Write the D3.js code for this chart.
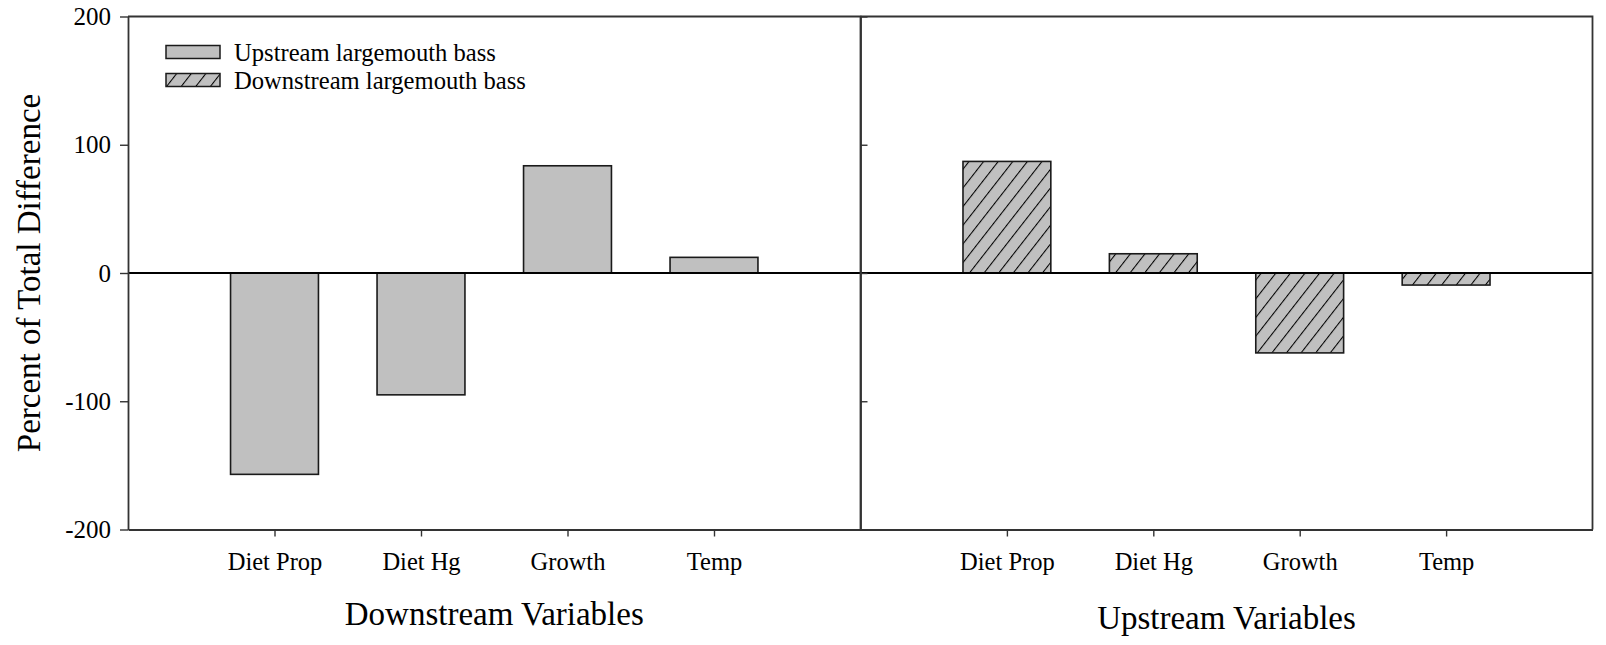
<!DOCTYPE html>
<html>
<head>
<meta charset="utf-8">
<script src="https://cdn.jsdelivr.net/npm/d3@7"></script>
<style>
  html, body { margin: 0; padding: 0; background: #fff; }
  svg { display: block; }
  text { font-family: "Liberation Serif", "Times New Roman", serif; fill: #000; }
</style>
</head>
<body>
<svg id="chart" width="1606" height="645"></svg>
<script>
// Variables compared in each panel
const categories = ["Diet Prop", "Diet Hg", "Growth", "Temp"];
// Percent of total difference, downstream variables (upstream largemouth bass)
const downstreamValues = [-157, -95, 83.6, 12.2];
// Percent of total difference, upstream variables (downstream largemouth bass)
const upstreamValues = [87, 15, -62.3, -9.4];
const yTicks = [-200, -100, 0, 100, 200];
const seriesNames = ["Upstream largemouth bass", "Downstream largemouth bass"];
const panelTitles = ["Downstream Variables", "Upstream Variables"];

const svg = d3.select("#chart");
const plotLeft = 128, plotMid = 860.5, plotRight = 1592.5, plotTop = 16.5, plotBottom = 529.5;
const ink = "#1a1a1a";
const serif = "Liberation Serif, Times New Roman, serif";

const y = d3.scaleLinear().domain([-200, 200]).range([plotBottom, plotTop]);

// Hatch fill for the downstream bass series
const defs = svg.append("defs");
const pat = defs.append("pattern")
  .attr("id", "hatch")
  .attr("patternUnits", "userSpaceOnUse")
  .attr("width", 11.5)
  .attr("height", 20)
  .attr("patternTransform", "rotate(38)");
pat.append("rect").attr("width", 11.5).attr("height", 20).attr("fill", "#c0c0c0");
pat.append("line").attr("x1", 0.5).attr("y1", 0).attr("x2", 0.5).attr("y2", 20)
  .attr("stroke", "#000").attr("stroke-width", 1.1);

const panels = [
  { x0: plotLeft, x1: plotMid, values: downstreamValues, fill: "#c0c0c0", title: panelTitles[0], titleY: 625, outerTicks: true },
  { x0: plotMid, x1: plotRight, values: upstreamValues, fill: "url(#hatch)", title: panelTitles[1], titleY: 629, outerTicks: false }
];

panels.forEach(p => {
  const x = d3.scalePoint().domain(categories).range([p.x0, p.x1]).padding(1);
  const bw = x.step() * 0.6;
  const g = svg.append("g");

  // bars
  g.selectAll("rect.bar")
    .data(categories.map((c, i) => ({ c, v: p.values[i] })))
    .join("rect")
    .attr("class", "bar")
    .attr("x", d => x(d.c) - bw / 2)
    .attr("width", bw)
    .attr("y", d => y(Math.max(0, d.v)))
    .attr("height", d => Math.abs(y(d.v) - y(0)))
    .attr("fill", p.fill)
    .attr("stroke", ink)
    .attr("stroke-width", 1.6);

  // zero reference line
  g.append("line")
    .attr("x1", p.x0).attr("x2", p.x1)
    .attr("y1", y(0)).attr("y2", y(0))
    .attr("stroke", "#000").attr("stroke-width", 1.2)
    .attr("shape-rendering", "crispEdges");

  // category axis
  const xAxis = g.append("g")
    .attr("transform", `translate(0,${plotBottom})`)
    .call(d3.axisBottom(x).tickSize(7).tickPadding(16).tickSizeOuter(0));
  xAxis.select(".domain").attr("stroke", "#333").attr("stroke-width", 1.8);
  xAxis.selectAll(".tick line").attr("stroke", "#333").attr("stroke-width", 1.4);
  xAxis.selectAll(".tick text").attr("font-size", 24.5).attr("font-family", serif).attr("fill", "#000");

  // panel title
  g.append("text")
    .attr("x", (p.x0 + p.x1) / 2)
    .attr("y", p.titleY)
    .attr("text-anchor", "middle")
    .attr("font-size", 33)
    .text(p.title);

  // y ticks
  if (p.outerTicks) {
    const yAxis = g.append("g")
      .attr("transform", `translate(${p.x0},0)`)
      .call(d3.axisLeft(y).tickValues(yTicks).tickSize(8).tickPadding(9).tickSizeOuter(0)
        .tickFormat(d => String(d)));
    yAxis.select(".domain").attr("stroke", "#333").attr("stroke-width", 1.8);
    yAxis.selectAll(".tick line").attr("stroke", "#333").attr("stroke-width", 1.4);
    yAxis.selectAll(".tick text").attr("font-size", 25).attr("font-family", serif).attr("fill", "#000");
  } else {
    const yAxis = g.append("g")
      .attr("transform", `translate(${p.x0},0)`)
      .call(d3.axisRight(y).tickValues(yTicks).tickSize(7).tickFormat("").tickSizeOuter(0));
    yAxis.select(".domain").attr("stroke", "#333").attr("stroke-width", 1.8);
    yAxis.selectAll(".tick line").attr("stroke", "#333").attr("stroke-width", 1.4);
  }

  // frame: top and right edges
  g.append("path")
    .attr("d", `M${p.x0},${plotTop}H${p.x1}V${plotBottom}`)
    .attr("fill", "none")
    .attr("stroke", "#333")
    .attr("stroke-width", 1.8);
});

// y-axis title
svg.append("text")
  .attr("transform", `translate(40,${(plotTop + plotBottom) / 2}) rotate(-90)`)
  .attr("text-anchor", "middle")
  .attr("font-size", 33)
  .text("Percent of Total Difference");

// legend
const legend = svg.append("g");
const fills = ["#c0c0c0", "url(#hatch)"];
seriesNames.forEach((name, i) => {
  const cy = 52 + i * 28;
  legend.append("rect")
    .attr("x", 166).attr("y", cy - 6.5)
    .attr("width", 54).attr("height", 13)
    .attr("fill", fills[i])
    .attr("stroke", ink).attr("stroke-width", 1.5);
  legend.append("text")
    .attr("x", 234).attr("y", cy)
    .attr("dy", "0.35em")
    .attr("font-size", 24.6)
    .text(name);
});
</script>
</body>
</html>
